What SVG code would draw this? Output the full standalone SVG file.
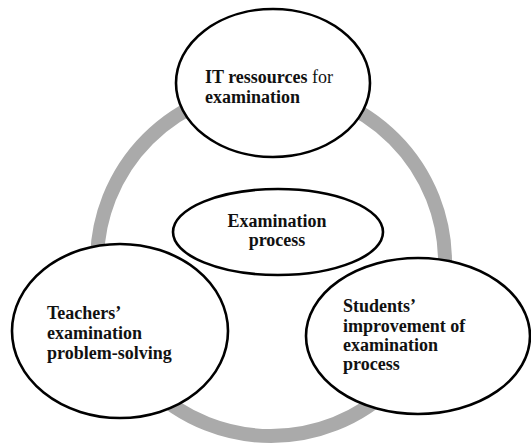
<svg xmlns="http://www.w3.org/2000/svg" xmlns:xlink="http://www.w3.org/1999/xlink" width="531" height="443" viewBox="0 0 531 443">
<style>
.ring{fill:none;stroke:#aaaaaa;stroke-width:14}
.bg{fill:#ffffff;stroke:none}
.ol{fill:none;stroke:#000000;stroke-width:2.6}
.t{font-family:"Liberation Serif","Times New Roman",serif;font-size:18px;font-weight:bold;fill:#111111}
.n{font-weight:normal}
</style>
<defs>
<ellipse id="e-top" cx="273" cy="83" rx="97" ry="74"/>
<ellipse id="e-left" cx="120" cy="331" rx="108" ry="87"/>
<ellipse id="e-right" cx="418" cy="336" rx="112" ry="78"/>
<ellipse id="e-center" cx="278" cy="232" rx="105" ry="43"/>
</defs>
<rect width="531" height="443" fill="#ffffff"/>
<g id="connectors">
<circle class="ring" cx="271" cy="262" r="174"/>
</g>
<g id="backdrops">
<use xlink:href="#e-top" class="bg"/>
<use xlink:href="#e-left" class="bg"/>
<use xlink:href="#e-right" class="bg"/>
<use xlink:href="#e-center" class="bg"/>
</g>
<g id="node-it">
<use xlink:href="#e-top" class="ol"/>
<text class="t" x="205" y="83">IT ressources <tspan class="n">for</tspan></text>
<text class="t" x="205" y="103">examination</text>
</g>
<g id="node-teachers">
<use xlink:href="#e-left" class="ol"/>
<text class="t" x="47" y="319">Teachers’</text>
<text class="t" x="47" y="339">examination</text>
<text class="t" x="47" y="358.5">problem-solving</text>
</g>
<g id="node-students">
<use xlink:href="#e-right" class="ol"/>
<text class="t" x="343" y="312">Students’</text>
<text class="t" x="343" y="331.5">improvement of</text>
<text class="t" x="343" y="351">examination</text>
<text class="t" x="343" y="370">process</text>
</g>
<g id="node-center">
<use xlink:href="#e-center" class="ol"/>
<text class="t" x="277" y="227" text-anchor="middle">Examination</text>
<text class="t" x="277" y="246" text-anchor="middle">process</text>
</g>
</svg>
